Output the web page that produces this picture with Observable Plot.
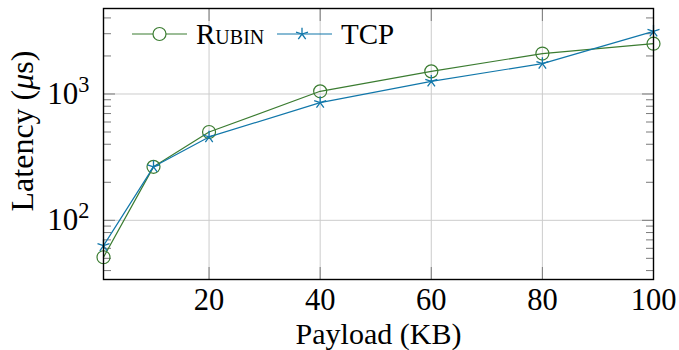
<!DOCTYPE html>
<html><head><meta charset="utf-8">
<script src="https://cdn.jsdelivr.net/npm/d3@7"></script>
<script src="https://cdn.jsdelivr.net/npm/@observablehq/plot@0.6"></script>
<style>body{margin:0;background:#fff} svg{display:block}</style>
</head><body><div id="chart"></div>
<script>
const payload = [1, 10, 20, 40, 60, 80, 100];
const rubin = [51, 265, 500, 1050, 1510, 2090, 2500];
const tcp = [63, 265, 457, 855, 1260, 1740, 3130];
const xTicks = [20, 40, 60, 80, 100];
const yMajor = [100, 1000];
const yMinor = [40, 50, 60, 70, 80, 90, 200, 300, 400, 500, 600, 700, 800, 900, 2000, 3000, 4000];
const yTickBase = "10";
const yTickExp = ["2", "3"];
const seriesNames = ["Rubin", "TCP"];
const colors = ["#3b7c31", "#1177aa"];

const rows = [
  ...payload.map((x, i) => ({x, y: rubin[i], s: seriesNames[0]})),
  ...payload.map((x, i) => ({x, y: tcp[i], s: seriesNames[1]}))
];

const star = {draw(ctx, size) {
  const r = Math.sqrt(size / Math.PI);
  for (let k = 0; k < 5; k++) {
    const a = -Math.PI / 2 + k * 2 * Math.PI / 5;
    ctx.moveTo(0, 0);
    ctx.lineTo(r * Math.cos(a), r * Math.sin(a));
  }
}};

const tickStroke = "#7a7a7a";
const grid = "#cccccc";
const font = "'Liberation Serif', 'Times New Roman', serif";

const plot = Plot.plot({
  width: 679, height: 350,
  marginLeft: 103, marginRight: 26, marginTop: 8, marginBottom: 71,
  style: {fontFamily: font, background: "white", color: "black"},
  x: {type: "linear", domain: [1, 100]},
  y: {type: "log", domain: [34, 4750]},
  color: {domain: seriesNames, range: colors},
  marks: [
    Plot.gridX(xTicks, {stroke: grid, strokeOpacity: 1, strokeWidth: 1}),
    Plot.gridY(yMajor, {stroke: grid, strokeOpacity: 1, strokeWidth: 1}),
    Plot.axisX(xTicks, {anchor: "bottom", tickSize: -12, fill: "none", stroke: tickStroke, label: null}),
    Plot.axisX(xTicks, {anchor: "top", tickSize: -12, fill: "none", stroke: tickStroke, label: null}),
    Plot.axisY(yMajor, {anchor: "left", tickSize: -12, fill: "none", stroke: tickStroke, label: null}),
    Plot.axisY(yMajor, {anchor: "right", tickSize: -12, fill: "none", stroke: tickStroke, label: null}),
    Plot.axisY(yMinor, {anchor: "left", tickSize: -8, fill: "none", stroke: tickStroke, label: null}),
    Plot.axisY(yMinor, {anchor: "right", tickSize: -8, fill: "none", stroke: tickStroke, label: null}),
    Plot.axisX(xTicks, {anchor: "bottom", tickSize: 0, tickPadding: 9, fontSize: 30.5, label: null, fill: "black"}),
    Plot.axisY(yMajor, {anchor: "left", tickSize: 0, tickPadding: 14, fontSize: 31, label: null, fill: "black",
      tickFormat: d => yTickBase + "^" + yTickExp[yMajor.indexOf(d)]}),
    Plot.line(rows, {x: "x", y: "y", z: "s", stroke: "s", strokeWidth: 1.2}),
    Plot.dot(rows.filter(d => d.s === seriesNames[0]), {x: "x", y: "y", symbol: "circle", r: 6.5, stroke: colors[0], fill: "none", strokeWidth: 1.2}),
    Plot.dot(rows.filter(d => d.s === seriesNames[1]), {x: "x", y: "y", symbol: star, r: 6.3, stroke: colors[1], fill: "none", strokeWidth: 1.3}),
    Plot.frame({stroke: "black", strokeWidth: 1.4}),
    Plot.text(["Payload (KB)"], {frameAnchor: "bottom", dy: 54.5, fontSize: 30, lineAnchor: "middle", textAnchor: "middle", fill: "black"}),
    Plot.text(["Latency (μs)"], {frameAnchor: "left", rotate: -90, dx: -81, dy: -13, fontSize: 32, lineAnchor: "middle", textAnchor: "middle", fill: "black"})
  ]
});
document.getElementById("chart").appendChild(plot);

const svg = d3.select(plot);
svg.selectAll("text").each(function() {
  const txt = this.textContent;
  const t = d3.select(this);
  if (txt === "Latency (μs)") {
    t.text(null);
    t.append("tspan").text("Latency (");
    t.append("tspan").attr("font-style", "italic").text("μ");
    t.append("tspan").text("s)");
  } else if (txt.includes("^")) {
    const [b, e] = txt.split("^");
    t.text(null);
    t.append("tspan").text(b);
    t.append("tspan").attr("font-size", "0.72em").attr("dy", "-0.55em").text(e);
  }
});

// legend
const legendX = [132, 277];
const legendY = 34;
const lg = svg.append("g").attr("font-family", font).attr("font-size", 29).attr("text-anchor", "start");
seriesNames.forEach((name, i) => {
  const x0 = legendX[i];
  lg.append("line").attr("x1", x0).attr("x2", x0 + 55).attr("y1", legendY).attr("y2", legendY)
    .attr("stroke", colors[i]).attr("stroke-width", 1.2);
  if (i === 0) {
    lg.append("circle").attr("cx", x0 + 27.5).attr("cy", legendY).attr("r", 6.5)
      .attr("fill", "white").attr("stroke", colors[i]).attr("stroke-width", 1.2);
  } else {
    lg.append("path").attr("transform", `translate(${x0 + 25},${legendY})`)
      .attr("d", d3.symbol(star, Math.PI * 6.3 * 6.3)())
      .attr("fill", "none").attr("stroke", colors[i]).attr("stroke-width", 1.3);
  }
  lg.append("text").attr("x", x0 + 64).attr("y", legendY + 10)
    .attr("fill", "black").attr("text-anchor", "start")
    .style("font-variant", i === 0 ? "small-caps" : "normal")
    .text(name);
});
</script>
</body></html>
